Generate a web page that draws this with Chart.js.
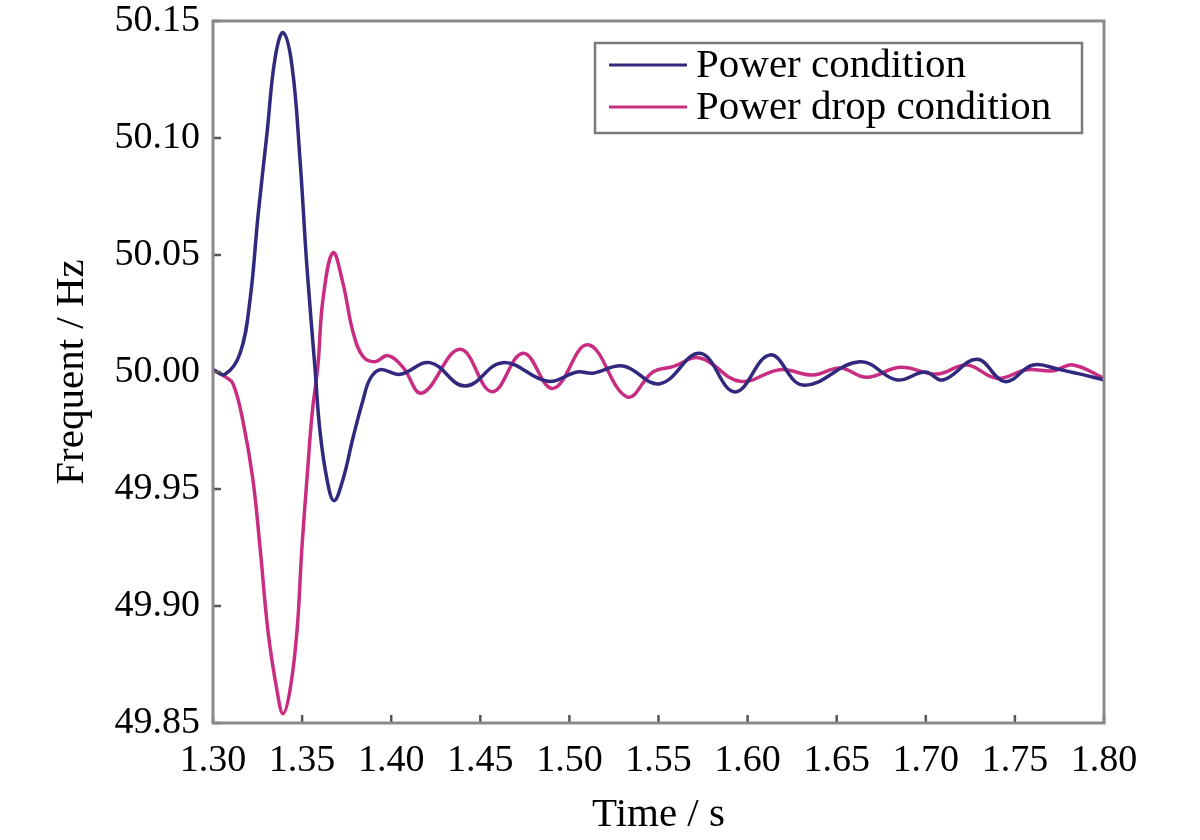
<!DOCTYPE html>
<html>
<head>
<meta charset="utf-8">
<script src="https://cdn.jsdelivr.net/npm/chart.js@4.4.0/dist/chart.umd.min.js"></script>
<style>
  html, body { margin: 0; padding: 0; background: #ffffff; }
  #wrap { width: 1200px; height: 840px; }
</style>
</head>
<body>
<div id="wrap"><canvas id="c" width="1200" height="840"></canvas></div>
<script>
// ---- Data ----
const seriesNames = ["Power condition", "Power drop condition"];

const timePower = [1.3000, 1.3067, 1.3152, 1.3208, 1.3253, 1.3303, 1.3348, 1.3393, 1.3443, 1.3488,
  1.3527, 1.3572, 1.3600, 1.3640, 1.3679, 1.3729, 1.3786, 1.3842, 1.3881, 1.3937,
  1.4049, 1.4218, 1.4414, 1.4627, 1.4880, 1.5043, 1.5132, 1.5301, 1.5508, 1.5733,
  1.5929, 1.6126, 1.6311, 1.6631, 1.6838, 1.6996, 1.7097, 1.7287, 1.7444, 1.7602,
  1.7753, 1.7849, 1.8000];
const freqPower = [50.001, 49.999, 50.008, 50.031, 50.067, 50.102, 50.134, 50.145, 50.131, 50.091,
  50.045, 50.002, 49.975, 49.954, 49.945, 49.954, 49.972, 49.988, 49.997, 50.001,
  49.999, 50.004, 49.994, 50.004, 49.996, 50.000, 49.9995, 50.0026, 49.995, 50.008,
  49.9915, 50.0073, 49.9944, 50.0044, 49.9966, 50.000, 49.9966, 50.0054, 49.9959, 50.003,
  50.001, 49.9994, 49.9966];

const timeDrop = [1.3000, 1.3067, 1.3112, 1.3168, 1.3224, 1.3264, 1.3309, 1.3359, 1.3393, 1.3432,
  1.3471, 1.3499, 1.3527, 1.3556, 1.3589, 1.3617, 1.3673, 1.3729, 1.3786, 1.3842,
  1.3909, 1.3982, 1.4066, 1.4173, 1.4386, 1.4566, 1.4740, 1.4908, 1.5104, 1.5323,
  1.5469, 1.5581, 1.5733, 1.5957, 1.6182, 1.6367, 1.6519, 1.6670, 1.6855, 1.7063,
  1.7231, 1.7399, 1.7568, 1.7714, 1.7826, 1.8000];
const freqDrop = [50.001, 49.998, 49.995, 49.979, 49.954, 49.925, 49.889, 49.864, 49.854, 49.864,
  49.889, 49.925, 49.954, 49.982, 50.003, 50.031, 50.051, 50.038, 50.017, 50.0066,
  50.0044, 50.007, 50.002, 49.991, 50.0097, 49.9916, 50.008, 49.993, 50.0116, 49.9894,
  50.000, 50.0023, 50.006, 49.996, 50.001, 49.9987, 50.0017, 49.9977, 50.002, 49.9991,
  50.003, 49.9973, 50.001, 50.0005, 50.003, 49.9973];

const xTickValues = [1.30, 1.35, 1.40, 1.45, 1.50, 1.55, 1.60, 1.65, 1.70, 1.75, 1.80];
const yTickValues = [49.85, 49.90, 49.95, 50.00, 50.05, 50.10, 50.15];
const xTitle = "Time / s";
const yTitle = "Frequent / Hz";

// ---- Styles ----
const SERIF = "'Liberation Serif', 'Times New Roman', serif";
const colorPower = "#30297e";
const colorDrop = "#c92d82";
const frameColor = "#8a8a8a";

function toPoints(xs, ys) { return xs.map((x, i) => ({ x: x, y: ys[i] })); }

const frameAndTicks = {
  id: 'frameAndTicks',
  afterDatasetsDraw(chart) {
    const { ctx, chartArea: a, scales } = chart;
    ctx.save();
    ctx.strokeStyle = "#555";
    ctx.lineWidth = 2.5;
    ctx.beginPath();
    scales.x.ticks.forEach(t => {
      const px = scales.x.getPixelForValue(t.value);
      ctx.moveTo(px, a.bottom); ctx.lineTo(px, a.bottom - 8);
    });
    scales.y.ticks.forEach(t => {
      const py = scales.y.getPixelForValue(t.value);
      ctx.moveTo(a.left, py); ctx.lineTo(a.left + 8, py);
    });
    ctx.stroke();
    ctx.strokeStyle = frameColor;
    ctx.lineWidth = 3;
    ctx.strokeRect(a.left, a.top, a.right - a.left, a.bottom - a.top);
    ctx.restore();
  }
};

const boxLegend = {
  id: 'boxLegend',
  afterDraw(chart) {
    const { ctx } = chart;
    const bx = 595, by = 43, bw = 487, bh = 90;
    ctx.save();
    ctx.fillStyle = "#ffffff";
    ctx.fillRect(bx, by, bw, bh);
    ctx.strokeStyle = "#7a7a7a";
    ctx.lineWidth = 2.5;
    ctx.strokeRect(bx, by, bw, bh);
    ctx.font = "41px " + SERIF;
    ctx.textBaseline = "middle";
    ctx.textAlign = "left";
    chart.data.datasets.forEach((ds, i) => {
      const cy = by + 22 + i * 42;
      ctx.strokeStyle = ds.borderColor;
      ctx.lineWidth = 3;
      ctx.beginPath();
      ctx.moveTo(bx + 14, cy); ctx.lineTo(bx + 92, cy);
      ctx.stroke();
      ctx.fillStyle = "#000";
      ctx.fillText(ds.label, bx + 101, cy + 1);
    });
    ctx.restore();
  }
};

new Chart(document.getElementById('c'), {
  type: 'line',
  data: {
    datasets: [
      { label: seriesNames[0], data: toPoints(timePower, freqPower), borderColor: colorPower,
        borderWidth: 3.5, pointRadius: 0, tension: 0.4, fill: false },
      { label: seriesNames[1], data: toPoints(timeDrop, freqDrop), borderColor: colorDrop,
        borderWidth: 3.5, pointRadius: 0, tension: 0.4, fill: false }
    ]
  },
  options: {
    responsive: false,
    animation: false,
    devicePixelRatio: 1,
    layout: { padding: { left: 0, top: 0, right: 96, bottom: 0 } },
    plugins: { legend: { display: false }, tooltip: { enabled: false } },
    scales: {
      x: {
        type: 'linear', min: 1.30, max: 1.80,
        afterBuildTicks: s => { s.ticks = xTickValues.map(v => ({ value: v })); },
        afterFit: s => { s.height = 117; },
        grid: { display: false, drawTicks: false },
        border: { display: false },
        ticks: { padding: 15, color: '#000', font: { family: SERIF, size: 38 },
                 maxRotation: 0, autoSkip: false, callback: v => Number(v).toFixed(2) },
        title: { display: true, text: xTitle, color: '#000', padding: { top: 0, bottom: 4 },
                 font: { family: SERIF, size: 41, lineHeight: 1 } }
      },
      y: {
        type: 'linear', min: 49.85, max: 50.15,
        afterBuildTicks: s => { s.ticks = yTickValues.map(v => ({ value: v })); },
        afterFit: s => { s.width = 213; },
        grid: { display: false, drawTicks: false },
        border: { display: false },
        ticks: { padding: 13, color: '#000', font: { family: SERIF, size: 38, lineHeight: 0.42 },
                 autoSkip: false, callback: v => Number(v).toFixed(2) },
        title: { display: true, text: yTitle, color: '#000', padding: { top: 52, bottom: 0 },
                 font: { family: SERIF, size: 41, lineHeight: 1 } }
      }
    }
  },
  plugins: [frameAndTicks, boxLegend]
});
</script>
</body>
</html>
